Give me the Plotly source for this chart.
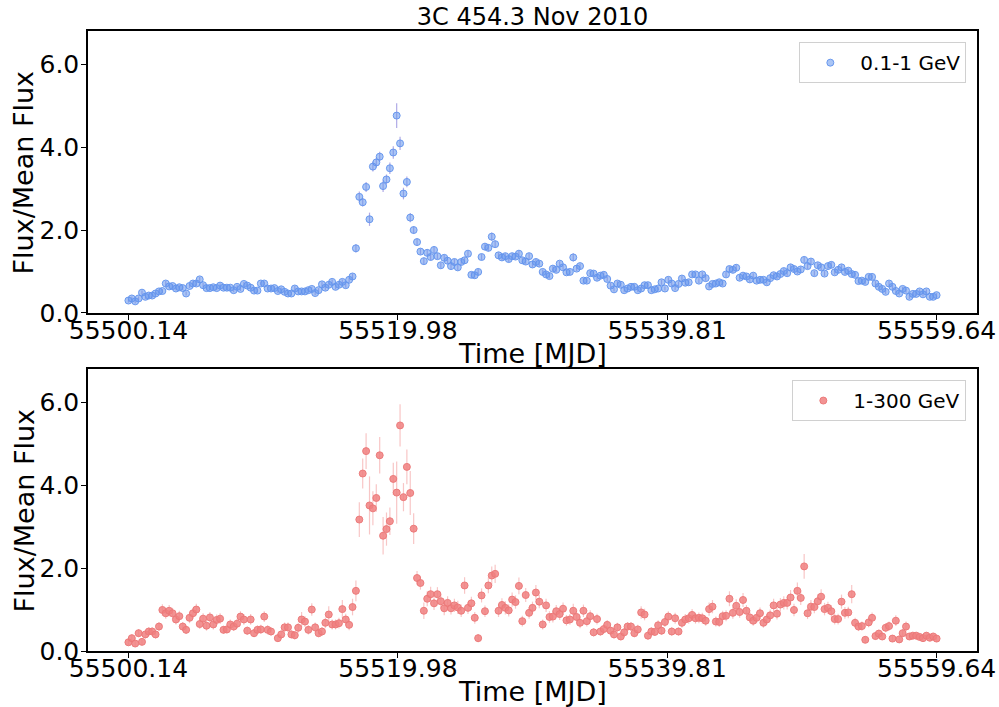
import numpy as np
import plotly.graph_objects as go

# ---------------- data ----------------
t_start, t_end = 55500.14, 55559.64
n_bins = 239
time_mjd = np.linspace(t_start, t_end, n_bins)

tick_labels = ["55500.14", "55519.98", "55539.81", "55559.64"]
y_ticks = [0.0, 2.0, 4.0, 6.0]

flux_low = [
    0.30, 0.35, 0.28, 0.35, 0.49, 0.39, 0.42, 0.42, 0.47, 0.52,
    0.53, 0.71, 0.64, 0.65, 0.59, 0.62, 0.60, 0.47, 0.65, 0.71,
    0.71, 0.81, 0.67, 0.60, 0.60, 0.62, 0.60, 0.66, 0.61, 0.61,
    0.61, 0.55, 0.63, 0.58, 0.70, 0.66, 0.61, 0.54, 0.54, 0.71,
    0.71, 0.59, 0.59, 0.60, 0.53, 0.57, 0.51, 0.47, 0.47, 0.59,
    0.52, 0.52, 0.52, 0.55, 0.58, 0.48, 0.55, 0.69, 0.61, 0.68,
    0.75, 0.63, 0.68, 0.75, 0.67, 0.80, 0.88, 1.56, 2.80, 2.67,
    3.04, 2.26, 3.53, 3.63, 3.77, 3.06, 3.22, 3.49, 3.87, 4.76,
    4.09, 2.88, 3.16, 2.30, 2.00, 1.71, 1.48, 1.25, 1.45, 1.35,
    1.52, 1.37, 1.15, 1.33, 1.26, 1.13, 1.23, 1.10, 1.23, 1.27,
    1.43, 0.92, 0.91, 0.99, 1.35, 1.60, 1.57, 1.84, 1.66, 1.39,
    1.34, 1.37, 1.30, 1.37, 1.36, 1.43, 1.27, 1.24, 1.37, 1.17,
    1.23, 1.19, 0.99, 0.93, 0.89, 1.07, 1.04, 1.19, 1.10, 0.98,
    0.99, 1.34, 1.07, 1.13, 0.78, 0.78, 0.96, 0.95, 0.85, 0.90,
    0.92, 0.82, 0.66, 0.57, 0.71, 0.68, 0.55, 0.59, 0.63, 0.63,
    0.55, 0.59, 0.67, 0.67, 0.55, 0.57, 0.59, 0.74, 0.59, 0.80,
    0.71, 0.60, 0.70, 0.83, 0.73, 0.74, 0.93, 0.93, 0.78, 0.93,
    0.84, 0.64, 0.70, 0.71, 0.74, 0.71, 0.93, 1.06, 1.04, 1.09,
    0.85, 0.90, 0.88, 0.81, 0.90, 0.78, 0.80, 0.80, 0.74, 0.84,
    0.91, 0.88, 0.94, 1.01, 0.96, 1.10, 1.06, 1.00, 1.05, 1.28,
    1.13, 1.24, 0.96, 1.15, 1.10, 0.95, 1.13, 1.16, 0.98, 1.04,
    1.10, 0.99, 1.02, 0.94, 0.92, 0.77, 0.78, 0.75, 0.87, 0.87,
    0.71, 0.63, 0.58, 0.51, 0.71, 0.63, 0.53, 0.47, 0.58, 0.54,
    0.39, 0.46, 0.46, 0.52, 0.45, 0.52, 0.39, 0.39, 0.43,
]

err_low = [
    0.05, 0.05, 0.05, 0.05, 0.05, 0.05, 0.05, 0.05, 0.05, 0.05,
    0.05, 0.06, 0.05, 0.05, 0.05, 0.05, 0.05, 0.05, 0.05, 0.06,
    0.06, 0.06, 0.05, 0.05, 0.05, 0.05, 0.05, 0.05, 0.05, 0.05,
    0.05, 0.05, 0.05, 0.05, 0.05, 0.05, 0.05, 0.05, 0.05, 0.05,
    0.05, 0.05, 0.05, 0.05, 0.05, 0.05, 0.05, 0.05, 0.05, 0.06,
    0.05, 0.05, 0.05, 0.05, 0.05, 0.05, 0.05, 0.06, 0.06, 0.06,
    0.06, 0.06, 0.06, 0.06, 0.06, 0.06, 0.07, 0.10, 0.13, 0.10,
    0.12, 0.16, 0.12, 0.12, 0.12, 0.14, 0.12, 0.14, 0.15, 0.30,
    0.16, 0.14, 0.13, 0.11, 0.09, 0.08, 0.07, 0.08, 0.08, 0.08,
    0.08, 0.07, 0.07, 0.07, 0.07, 0.07, 0.07, 0.07, 0.07, 0.07,
    0.07, 0.07, 0.07, 0.07, 0.07, 0.08, 0.08, 0.10, 0.08, 0.07,
    0.07, 0.07, 0.07, 0.07, 0.07, 0.07, 0.07, 0.07, 0.07, 0.07,
    0.07, 0.07, 0.06, 0.06, 0.06, 0.06, 0.06, 0.06, 0.06, 0.06,
    0.06, 0.10, 0.06, 0.06, 0.06, 0.06, 0.06, 0.06, 0.06, 0.06,
    0.06, 0.06, 0.06, 0.05, 0.06, 0.06, 0.05, 0.05, 0.06, 0.06,
    0.05, 0.05, 0.06, 0.06, 0.05, 0.05, 0.05, 0.06, 0.05, 0.06,
    0.06, 0.05, 0.06, 0.06, 0.06, 0.06, 0.06, 0.06, 0.06, 0.06,
    0.06, 0.05, 0.06, 0.06, 0.06, 0.06, 0.06, 0.07, 0.07, 0.07,
    0.06, 0.06, 0.06, 0.06, 0.06, 0.06, 0.06, 0.06, 0.06, 0.06,
    0.06, 0.06, 0.06, 0.07, 0.06, 0.07, 0.07, 0.06, 0.07, 0.07,
    0.07, 0.07, 0.06, 0.07, 0.07, 0.06, 0.07, 0.07, 0.06, 0.07,
    0.07, 0.06, 0.06, 0.06, 0.06, 0.06, 0.06, 0.06, 0.06, 0.06,
    0.06, 0.05, 0.05, 0.05, 0.06, 0.05, 0.05, 0.05, 0.05, 0.05,
    0.05, 0.05, 0.05, 0.05, 0.05, 0.05, 0.05, 0.05, 0.05,
]

flux_high = [
    0.21, 0.31, 0.18, 0.43, 0.22, 0.40, 0.47, 0.47, 0.40, 0.59,
    0.99, 0.91, 0.97, 0.91, 0.76, 0.84, 0.59, 0.51, 0.80, 0.91,
    1.00, 0.65, 0.78, 0.61, 0.81, 0.64, 0.75, 0.78, 0.51, 0.52,
    0.64, 0.59, 0.66, 0.83, 0.76, 0.49, 0.76, 0.43, 0.51, 0.52,
    0.83, 0.51, 0.47, None, 0.31, 0.40, 0.57, 0.57, 0.40, 0.38,
    0.56, 0.76, 0.71, 0.51, 1.00, 0.57, 0.43, 0.47, 0.68, 0.88,
    0.64, 0.64, 0.67, 1.01, 0.76, 0.63, 1.06, 1.45, 3.17, 4.28,
    4.82, 3.51, 3.44, 3.69, 4.72, 2.78, 2.94, 3.13, 4.15, 3.82,
    5.44, 3.71, 4.44, 3.81, 2.95, 1.76, 1.64, 0.97, 1.26, 1.37,
    1.15, 1.37, 1.20, 1.03, 1.16, 1.03, 1.10, 1.05, 0.97, 1.58,
    1.04, 1.15, 0.80, 0.31, 1.34, 0.96, 1.58, 1.82, 1.86, 0.97,
    1.11, 1.04, 0.98, 1.24, 1.18, 1.57, 0.72, 1.35, 0.92, 1.04,
    1.41, 1.19, 0.64, 1.10, 0.82, 0.83, 0.96, 0.89, 1.02, 0.74,
    0.76, 0.97, 0.82, 0.68, 0.97, 0.72, 0.84, 0.45, 0.77, 0.47,
    0.53, 0.63, 0.49, 0.40, 0.57, 0.35, 0.45, 0.59, 0.59, 0.43,
    0.52, 0.93, 0.88, 0.37, 0.47, 0.46, 0.62, 0.49, 0.70, 0.83,
    0.47, 0.79, 0.47, 0.68, 0.76, 0.79, 0.87, 0.79, 0.80, 0.79,
    0.73, 1.01, 1.07, 0.71, 0.70, 0.84, 0.85, 1.26, 0.92, 1.09,
    0.94, 1.23, 0.97, 0.81, 0.73, 0.80, 0.91, 0.68, 0.76, 0.86,
    1.10, 0.90, 1.12, 1.16, 1.16, 1.29, 0.99, 1.45, 1.28, 2.04,
    0.91, 1.07, 1.06, 1.20, 1.31, 1.01, 1.04, 0.96, 0.77, 0.77,
    1.19, 0.92, 0.93, 1.37, 0.68, 0.59, 0.60, 0.27, 0.69, 0.80,
    0.36, 0.42, 0.35, 0.56, 0.60, 0.30, 0.73, 0.28, 0.43, 0.59,
    0.35, 0.37, 0.37, 0.34, 0.31, 0.37, 0.32, 0.35, 0.30,
]

err_high = [
    0.08, 0.09, 0.08, 0.10, 0.08, 0.10, 0.10, 0.10, 0.10, 0.11,
    0.14, 0.13, 0.14, 0.13, 0.12, 0.13, 0.11, 0.10, 0.13, 0.13,
    0.14, 0.12, 0.13, 0.12, 0.13, 0.12, 0.13, 0.13, 0.10, 0.10,
    0.12, 0.11, 0.12, 0.13, 0.13, 0.10, 0.13, 0.10, 0.11, 0.11,
    0.13, 0.11, 0.10, 0.10, 0.09, 0.10, 0.12, 0.12, 0.10, 0.10,
    0.12, 0.18, 0.13, 0.11, 0.15, 0.12, 0.10, 0.11, 0.13, 0.20,
    0.12, 0.12, 0.13, 0.22, 0.14, 0.13, 0.20, 0.25, 0.42, 0.36,
    0.43, 0.70, 0.41, 0.33, 0.44, 0.45, 0.40, 0.33, 0.39, 0.75,
    0.51, 0.34, 0.42, 0.53, 0.37, 0.17, 0.16, 0.20, 0.18, 0.18,
    0.16, 0.17, 0.16, 0.17, 0.16, 0.15, 0.16, 0.16, 0.15, 0.20,
    0.15, 0.16, 0.14, 0.10, 0.17, 0.14, 0.19, 0.22, 0.22, 0.15,
    0.16, 0.16, 0.15, 0.17, 0.16, 0.20, 0.13, 0.17, 0.14, 0.15,
    0.18, 0.16, 0.12, 0.16, 0.14, 0.14, 0.15, 0.14, 0.15, 0.13,
    0.13, 0.17, 0.14, 0.13, 0.15, 0.13, 0.14, 0.10, 0.13, 0.10,
    0.11, 0.12, 0.10, 0.10, 0.11, 0.09, 0.10, 0.11, 0.11, 0.10,
    0.11, 0.15, 0.14, 0.09, 0.10, 0.10, 0.12, 0.10, 0.12, 0.13,
    0.10, 0.13, 0.10, 0.12, 0.13, 0.13, 0.14, 0.13, 0.13, 0.13,
    0.12, 0.16, 0.16, 0.12, 0.12, 0.13, 0.13, 0.18, 0.14, 0.16,
    0.14, 0.17, 0.14, 0.13, 0.12, 0.13, 0.14, 0.12, 0.13, 0.14,
    0.16, 0.14, 0.16, 0.16, 0.16, 0.18, 0.15, 0.20, 0.17, 0.30,
    0.14, 0.16, 0.15, 0.17, 0.18, 0.15, 0.15, 0.15, 0.13, 0.13,
    0.17, 0.14, 0.14, 0.22, 0.12, 0.11, 0.11, 0.08, 0.12, 0.13,
    0.09, 0.09, 0.08, 0.11, 0.11, 0.08, 0.13, 0.08, 0.10, 0.12,
    0.08, 0.09, 0.09, 0.08, 0.08, 0.09, 0.08, 0.08, 0.08,
]

labels = ["0.1-1 GeV", "1-300 GeV"]
title_text = "3C 454.3 Nov 2010"
x_title = "Time [MJD]"
y_title = "Flux/Mean Flux"

# ---------------- figure ----------------
FONT = "DejaVu Sans, Liberation Sans, sans-serif"
fig = go.Figure()

fig.add_trace(go.Scatter(
    x=time_mjd, y=flux_low, mode="markers", name=labels[0], showlegend=True,
    error_y=dict(type="data", array=err_low, visible=True, thickness=1.2,
                 width=0, color="rgba(110,100,210,0.55)"),
    marker=dict(size=7, color="rgba(100,149,237,0.55)",
                line=dict(width=1, color="rgba(100,149,237,0.95)")),
    xaxis="x", yaxis="y", legend="legend",
))
fig.add_trace(go.Scatter(
    x=time_mjd, y=flux_high, mode="markers", name=labels[1], showlegend=True,
    error_y=dict(type="data", array=err_high, visible=True, thickness=1.2,
                 width=0, color="rgba(240,128,128,0.45)"),
    marker=dict(size=7, color="rgba(240,128,128,0.85)",
                line=dict(width=1, color="rgba(235,120,120,0.95)")),
    xaxis="x2", yaxis="y2", legend="legend2",
))

pad = 0.05 * (t_end - t_start)
xr = [t_start - pad, t_end + pad]
tick_vals = [float(s) for s in tick_labels]

axis_common = dict(
    showline=True, linecolor="black", linewidth=1.5, mirror=True,
    ticks="outside", ticklen=5, tickwidth=1.3, tickcolor="black",
    showgrid=False, zeroline=False, automargin=False,
    tickfont=dict(family=FONT, size=25, color="black"),
)

x_common = dict(axis_common, range=xr, tickvals=tick_vals, ticktext=tick_labels,
                ticklabelstandoff=-11)
y_common = dict(axis_common, range=[0, 6.8], tickvals=y_ticks, tickformat=".1f",
                ticklabelstandoff=-3)

# panel domains (paper fractions)
top_dom = [0.5452, 1.0]
bot_dom = [0.0, 0.4548]

title_font = dict(family=FONT, size=27, color="black")
annotations = []
for dom in (top_dom, bot_dom):
    # y-axis title
    annotations.append(dict(text=y_title, textangle=-90, xref="paper", yref="paper",
                            x=-0.0715, y=(dom[0] + dom[1]) / 2, xanchor="center",
                            yanchor="middle", showarrow=False, font=title_font))
    # x-axis title
    annotations.append(dict(text=x_title, xref="paper", yref="paper",
                            x=0.5, y=dom[0] - 0.066, xanchor="center",
                            yanchor="middle", showarrow=False, font=title_font))

fig.update_layout(
    width=999, height=707,
    margin=dict(l=88, r=22, t=31, b=56, autoexpand=False),
    paper_bgcolor="white", plot_bgcolor="white",
    font=dict(family=FONT, color="black"),
    showlegend=True,
    xaxis=dict(x_common, domain=[0, 1], anchor="y"),
    yaxis=dict(y_common, domain=top_dom, anchor="x"),
    xaxis2=dict(x_common, domain=[0, 1], anchor="y2"),
    yaxis2=dict(y_common, domain=bot_dom, anchor="x2"),
    annotations=annotations,
    title=dict(text=title_text, x=0.5, xref="paper", xanchor="center",
               y=1 - 17 / 707, yref="container", yanchor="middle",
               font=dict(family=FONT, size=24, color="black")),
    legend=dict(x=0.988, y=0.982, xanchor="right", yanchor="top",
                bgcolor="rgba(255,255,255,0.8)", bordercolor="#d0d0d0", borderwidth=1,
                font=dict(family=FONT, size=20, color="black"), itemwidth=50),
    legend2=dict(x=0.988, y=0.437, xanchor="right", yanchor="top",
                 bgcolor="rgba(255,255,255,0.8)", bordercolor="#d0d0d0", borderwidth=1,
                 font=dict(family=FONT, size=20, color="black"), itemwidth=50),
)

fig.write_html("out.html")
